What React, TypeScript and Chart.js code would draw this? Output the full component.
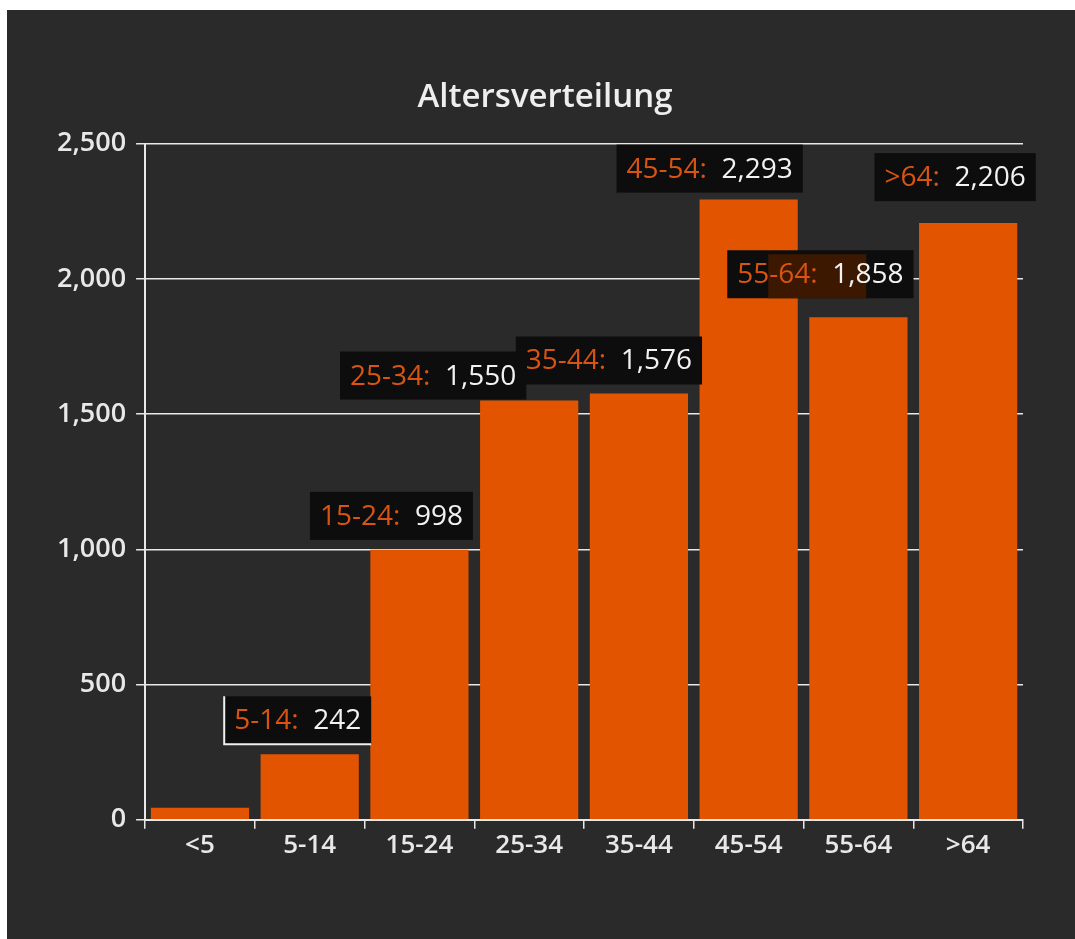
import React, { useEffect, useRef } from "react";
import { Chart, registerables } from "chart.js";

Chart.register(...registerables);

const categories = ["<5", "5-14", "15-24", "25-34", "35-44", "45-54", "55-64", ">64"];
const values = [45, 242, 998, 1550, 1576, 2293, 1858, 2206];
const yTicks = [0, 500, 1000, 1500, 2000, 2500];
const showLabel = [false, true, true, true, true, true, true, true];
// label placement relative to bar centre / top (px)
const labelDx = [0, -12, -28, -96, -30, -39, -38, -13];
const labelGap = [0, 10, 10, 1, 9, 7, 19, 22];

const BAR = "#e35400";
const BG = "#2a2a2a";
const FONT = "'Open Sans', sans-serif";

const fmt = (v: number) => v.toLocaleString("en-US");

const titleShift = {
  id: "titleShift",
  afterLayout(chart: any) {
    const t = chart.titleBlock;
    if (t) {
      t.left += 10;
      t.right += 10;
    }
  },
};

const labelPlugin = {
  id: "barLabels",
  afterDatasetsDraw(chart: any) {
    const ctx = chart.ctx;
    const meta = chart.getDatasetMeta(0);
    ctx.save();
    ctx.font = `28px ${FONT}`;
    ctx.textBaseline = "middle";
    meta.data.forEach((bar: any, i: number) => {
      if (!showLabel[i]) return;
      const lab = categories[i] + ":";
      const val = fmt(values[i]);
      const w1 = ctx.measureText(lab).width;
      const sp = ctx.measureText("  ").width;
      const w2 = ctx.measureText(val).width;
      const tw = w1 + sp + w2;
      const bw = tw + 20;
      const bh = 48;
      const cx = bar.x + labelDx[i];
      const bottom = bar.y - labelGap[i];
      const left = cx - bw / 2;
      const top = bottom - bh;
      ctx.fillStyle = "#0d0d0d";
      ctx.fillRect(left, top, bw, bh);
      if (i === 1) {
        ctx.strokeStyle = "#f0f0f0";
        ctx.lineWidth = 2;
        ctx.beginPath();
        ctx.moveTo(left, top);
        ctx.lineTo(left, bottom);
        ctx.lineTo(left + bw, bottom);
        ctx.stroke();
      }
      if (i === 6) {
        ctx.fillStyle = "#3d1800";
        ctx.fillRect(left + 41, top + 4, 98, bh - 4);
      }
      const ty = top + bh / 2 + 1;
      ctx.textAlign = "left";
      ctx.fillStyle = "#d95410";
      ctx.fillText(lab, left + 10, ty);
      ctx.fillStyle = "#f2f2f2";
      ctx.fillText(val, left + 10 + w1 + sp, ty);
    });
    ctx.restore();
  },
};

export default function App() {
  const ref = useRef<HTMLCanvasElement | null>(null);
  useEffect(() => {
    if (!ref.current) return;
    const chart = new Chart(ref.current, {
      type: "bar",
      data: {
        labels: categories,
        datasets: [
          {
            data: values,
            backgroundColor: BAR,
            borderWidth: 0,
            categoryPercentage: 1,
            barPercentage: 0.895,
          },
        ],
      },
      options: {
        animation: false,
        responsive: false,
        maintainAspectRatio: false,
        layout: { padding: { left: 40, right: 52, top: 0, bottom: 77 } },
        plugins: {
          legend: { display: false },
          tooltip: { enabled: false },
          title: {
            display: true,
            text: "Altersverteilung",
            color: "#eeeeee",
            font: { family: FONT, size: 33, weight: "600" },
            padding: { top: 68, bottom: 26 },
          },
        },
        scales: {
          x: {
            grid: {
              display: true,
              drawOnChartArea: false,
              drawTicks: true,
              tickLength: 9,
              color: "#e8e8e8",
              lineWidth: 1.5,
            },
            border: { display: true, color: "#e8e8e8", width: 2 },
            ticks: {
              color: "#e8e8e8",
              font: { family: FONT, size: 26, weight: "600" },
              padding: 1,
            },
          },
          y: {
            min: 0,
            max: 2500,
            afterBuildTicks(axis: any) {
              axis.ticks = yTicks.map((v) => ({ value: v }));
            },
            grid: {
              color: "#e8e8e8",
              lineWidth: 1.5,
              tickLength: 9,
            },
            border: { display: true, color: "#e8e8e8", width: 2 },
            ticks: {
              color: "#e8e8e8",
              font: { family: FONT, size: 27, weight: "600" },
              padding: 10,
              callback: (v: any) => fmt(Number(v)),
            },
          },
        },
      },
      plugins: [titleShift, labelPlugin],
    });
    return () => chart.destroy();
  }, []);
  return (
    <div
      style={{
        position: "fixed",
        left: 7,
        top: 10,
        width: 1068,
        height: 929,
        background: BG,
      }}
    >
      <canvas ref={ref} width={1068} height={929} style={{ display: "block" }} />
    </div>
  );
}
